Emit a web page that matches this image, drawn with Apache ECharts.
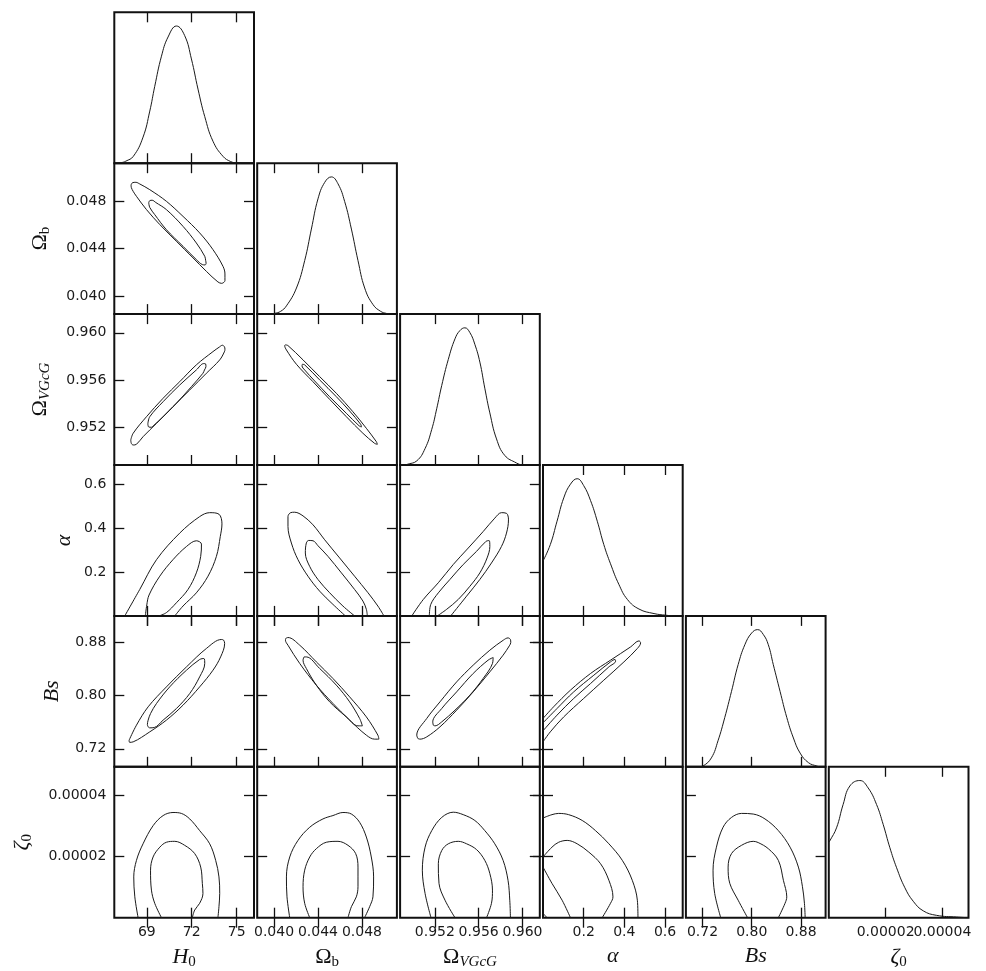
<!DOCTYPE html>
<html>
<head>
<meta charset="utf-8">
<script src="https://cdn.jsdelivr.net/npm/echarts@6/dist/echarts.min.js"></script>
<style>
html, body { margin: 0; background: #fff; }
#graph { width: 986px; height: 971px; }
</style>
</head>
<body>
<div id="graph"></div>
<script>
// parameters: H0, Omega_b, Omega_VGcG, alpha, Bs, zeta0
const axisNames = ['{it|H}{sub|0}', '{rm|Ω}{sub|b}', '{rm|Ω}{subi|VGcG}', '{it|α}', '{it|Bs}', '{it|ζ}{sub|0}'];
const ranges = [[66.83, 76.16], [0.03847, 0.05118], [0.94883, 0.96158], [0, 0.687], [0.693, 0.920], [0, 4.92e-5]];
const ticks = [[69, 72, 75], [0.040, 0.044, 0.048], [0.952, 0.956, 0.960], [0.2, 0.4, 0.6], [0.72, 0.80, 0.88], [2e-5, 4e-5]];
const digits = [0, 3, 3, 1, 2, 5];
const yNameGap = [0, 62, 62, 39, 51, 80];

// 1D marginals: [value, relative density]
const pdfH0 = [[67.0, 0], [67.3, 0.004], [67.6, 0.015], [68.1, 0.05], [68.75, 0.19], [69.2, 0.38], [69.53, 0.56], [69.98, 0.78], [70.42, 0.92], [70.98, 1.0], [71.53, 0.93], [71.98, 0.76], [72.42, 0.54], [72.87, 0.34], [73.42, 0.16], [74.09, 0.05], [74.6, 0.012], [75.0, 0.002], [75.3, 0]];
const pdfOb = [[0.0398, 0], [0.04006, 0.005], [0.0406, 0.02], [0.04113, 0.06], [0.04204, 0.19], [0.04279, 0.39], [0.0434, 0.62], [0.0440, 0.84], [0.04461, 0.96], [0.04522, 1.0], [0.04582, 0.95], [0.04643, 0.82], [0.04704, 0.62], [0.04764, 0.39], [0.04825, 0.19], [0.049, 0.07], [0.0497, 0.02], [0.05022, 0.005], [0.0505, 0]];
const pdfOv = [[0.94935, 0], [0.94945, 0.004], [0.95035, 0.03], [0.95111, 0.12], [0.95172, 0.26], [0.95217, 0.41], [0.95263, 0.58], [0.95323, 0.77], [0.95384, 0.92], [0.95429, 0.98], [0.95474, 1.0], [0.9552, 0.965], [0.95565, 0.88], [0.95611, 0.75], [0.95656, 0.56], [0.95702, 0.38], [0.95763, 0.19], [0.95838, 0.07], [0.95944, 0.015], [0.9599, 0]];
const pdfAlpha = [[0, 0.40], [0.036, 0.52], [0.069, 0.69], [0.102, 0.86], [0.135, 0.96], [0.168, 1.0], [0.2, 0.95], [0.234, 0.84], [0.267, 0.69], [0.299, 0.52], [0.332, 0.38], [0.373, 0.23], [0.415, 0.12], [0.472, 0.05], [0.546, 0.017], [0.604, 0.005], [0.64, 0]];
const pdfBs = [[0.716, 0], [0.7207, 0.005], [0.7344, 0.065], [0.7452, 0.19], [0.7562, 0.36], [0.7671, 0.55], [0.7779, 0.745], [0.7888, 0.89], [0.7998, 0.975], [0.8096, 1.0], [0.8187, 0.965], [0.8269, 0.89], [0.835, 0.745], [0.846, 0.55], [0.8569, 0.36], [0.8677, 0.21], [0.8786, 0.10], [0.8922, 0.03], [0.9059, 0.005], [0.91, 0]];
const pdfZ0 = [[0, 0.55], [0.35e-6, 0.56], [2.72e-6, 0.655], [5.04e-6, 0.825], [7.41e-6, 0.96], [10.93e-6, 1.0], [13.86e-6, 0.946], [16.82e-6, 0.825], [19.15e-6, 0.68], [21.51e-6, 0.51], [23.88e-6, 0.364], [26.8e-6, 0.218], [29.73e-6, 0.12], [33.26e-6, 0.05], [37.99e-6, 0.017], [45.04e-6, 0.005], [49e-6, 0]];

// 2D contours (outer / inner), [x, y]
const obH0Outer = [[67.95, 0.04935], [68.05, 0.04954], [68.27, 0.04957], [68.53, 0.04943], [69.2, 0.04895], [70.31, 0.04797], [71.42, 0.0467], [72.53, 0.04531], [73.42, 0.0439], [74.09, 0.04249], [74.22, 0.04185], [74.22, 0.0413], [74.0, 0.04106], [73.75, 0.04118], [72.98, 0.04207], [72.09, 0.0432], [70.98, 0.0446], [69.87, 0.04601], [68.98, 0.04727], [68.31, 0.04839], [68.09, 0.04881], [67.97, 0.04912], [67.95, 0.04935]];
const obH0Inner = [[69.13, 0.04785], [69.2, 0.04803], [69.36, 0.04806], [69.6, 0.04787], [70.31, 0.04727], [71.42, 0.04586], [72.31, 0.04446], [72.87, 0.04334], [72.93, 0.0430], [72.96, 0.04275], [72.89, 0.04261], [72.71, 0.04264], [72.31, 0.04306], [71.42, 0.04418], [70.31, 0.04558], [69.53, 0.04685], [69.2, 0.04745], [69.13, 0.04785]];
const ovH0Outer = [[67.93, 0.95094], [68.09, 0.95151], [68.98, 0.95291], [70.09, 0.95447], [71.2, 0.95587], [72.31, 0.95729], [73.42, 0.95841], [73.85, 0.9588], [74.05, 0.95895], [74.18, 0.95883], [74.22, 0.95861], [74.18, 0.95839], [73.87, 0.95771], [72.98, 0.95658], [71.87, 0.95517], [70.75, 0.95376], [69.65, 0.95235], [68.75, 0.95122], [68.31, 0.95058], [68.09, 0.95052], [67.97, 0.95065], [67.93, 0.95094]];
const ovH0Inner = [[69.07, 0.9523], [69.2, 0.95291], [70.09, 0.95418], [71.2, 0.95559], [72.31, 0.95686], [72.8, 0.9574], [72.93, 0.95737], [72.95, 0.95714], [72.85, 0.95686], [72.75, 0.95658], [71.98, 0.95545], [70.98, 0.95405], [70.09, 0.95291], [69.42, 0.95212], [69.31, 0.95202], [69.13, 0.95204], [69.07, 0.9523]];
const alH0Outer = [[67.53, 0], [68.53, 0.1204], [69.65, 0.256], [71.2, 0.377], [72.53, 0.452], [73.2, 0.470], [73.82, 0.463], [74.02, 0.419], [73.91, 0.362], [73.65, 0.271], [73.09, 0.181], [72.31, 0.105], [71.42, 0.045], [70.87, 0]];
const alH0Inner = [[68.9, 0], [69.0, 0.05], [69.15, 0.095], [69.87, 0.181], [70.75, 0.256], [71.65, 0.316], [72.31, 0.342], [72.65, 0.327], [72.6, 0.271], [72.31, 0.196], [71.75, 0.120], [70.98, 0.06], [70.31, 0.015], [69.82, 0]];
const bsH0Outer = [[67.82, 0.7331], [68.31, 0.7556], [69.09, 0.7832], [70.31, 0.8132], [71.65, 0.8433], [72.98, 0.871], [73.98, 0.8845], [74.13, 0.8835], [74.2, 0.8785], [73.93, 0.8583], [73.42, 0.8383], [72.53, 0.8132], [71.42, 0.7857], [70.31, 0.7632], [69.2, 0.7456], [68.09, 0.7305], [67.85, 0.7298], [67.82, 0.7331]];
const bsH0Inner = [[69.09, 0.7531], [69.04, 0.7565], [69.09, 0.7631], [69.25, 0.7731], [69.65, 0.7883], [70.53, 0.8132], [71.65, 0.8383], [72.53, 0.8544], [72.82, 0.8559], [72.87, 0.8484], [72.53, 0.8283], [71.87, 0.8033], [70.98, 0.7807], [70.09, 0.7632], [69.5, 0.7521], [69.2, 0.7516], [69.09, 0.7531]];
const zH0Outer = [[68.42, 0], [68.2, 0.68e-5], [68.13, 1.33e-5], [68.31, 1.87e-5], [68.75, 2.41e-5], [69.42, 3.0e-5], [70.09, 3.33e-5], [70.75, 3.43e-5], [71.31, 3.40e-5], [71.87, 3.22e-5], [72.53, 2.84e-5], [73.2, 2.41e-5], [73.6, 1.87e-5], [73.82, 1.33e-5], [73.87, 0.79e-5], [73.82, 0.36e-5], [73.75, 0]];
const zH0Inner = [[69.98, 0], [69.53, 0.47e-5], [69.31, 0.90e-5], [69.25, 1.55e-5], [69.42, 1.98e-5], [69.87, 2.30e-5], [70.31, 2.46e-5], [70.87, 2.49e-5], [71.53, 2.36e-5], [72.2, 2.09e-5], [72.6, 1.65e-5], [72.71, 1.12e-5], [72.75, 0.79e-5], [72.53, 0.47e-5], [72.2, 0.25e-5], [72.04, 0]];
const ovObOuter = [[0.04104, 0.95898], [0.04127, 0.95892], [0.04264, 0.95771], [0.04415, 0.9563], [0.04567, 0.95489], [0.04718, 0.95333], [0.0484, 0.95193], [0.04931, 0.9508], [0.0494, 0.95058], [0.04915, 0.95066], [0.04809, 0.95151], [0.04658, 0.95291], [0.04506, 0.95438], [0.04354, 0.95587], [0.04204, 0.95734], [0.04113, 0.95855], [0.04097, 0.95892], [0.04104, 0.95898]];
const ovObInner = [[0.04258, 0.95734], [0.04279, 0.95729], [0.04415, 0.95602], [0.04567, 0.9546], [0.04688, 0.95339], [0.04788, 0.95227], [0.04795, 0.95204], [0.04773, 0.95215], [0.04658, 0.9532], [0.04506, 0.9546], [0.0437, 0.95593], [0.04279, 0.95686], [0.04255, 0.9572], [0.04258, 0.95734]];
const alObOuter = [[0.04649, 0], [0.04536, 0.0525], [0.04415, 0.1127], [0.04309, 0.1806], [0.04218, 0.256], [0.04158, 0.3317], [0.04127, 0.4068], [0.04127, 0.452], [0.04152, 0.4702], [0.04188, 0.472], [0.04264, 0.4552], [0.04355, 0.4145], [0.04461, 0.3466], [0.04597, 0.2638], [0.04733, 0.1806], [0.04855, 0.1054], [0.04945, 0.0448], [0.0500, 0]];
const alObInner = [[0.04733, 0], [0.04627, 0.0448], [0.04506, 0.1054], [0.044, 0.1657], [0.04324, 0.2258], [0.04285, 0.2864], [0.04294, 0.3317], [0.04315, 0.3435], [0.04355, 0.3421], [0.044, 0.3195], [0.04491, 0.2711], [0.04613, 0.1959], [0.04733, 0.1204], [0.04809, 0.0675], [0.0484, 0.0299], [0.04849, 0]];
const bsObOuter = [[0.04106, 0.886], [0.04127, 0.8875], [0.04234, 0.8759], [0.04385, 0.8508], [0.04536, 0.8259], [0.04688, 0.7982], [0.0484, 0.7681], [0.04945, 0.7406], [0.04954, 0.7346], [0.04915, 0.7346], [0.0484, 0.7406], [0.04688, 0.7632], [0.04536, 0.7883], [0.04385, 0.8158], [0.04234, 0.8484], [0.04127, 0.8759], [0.04104, 0.8835], [0.04106, 0.886]];
const bsObInner = [[0.04273, 0.8583], [0.04294, 0.8583], [0.04415, 0.8409], [0.04567, 0.8158], [0.04688, 0.7907], [0.04779, 0.7657], [0.04804, 0.7546], [0.04764, 0.7546], [0.04658, 0.7681], [0.04506, 0.7907], [0.04385, 0.8158], [0.04294, 0.8409], [0.04264, 0.8534], [0.04273, 0.8583]];
const zObOuter = [[0.04143, 0], [0.04118, 0.68e-5], [0.04113, 1.33e-5], [0.04143, 1.98e-5], [0.04218, 2.52e-5], [0.04325, 2.95e-5], [0.04445, 3.22e-5], [0.04536, 3.33e-5], [0.04627, 3.43e-5], [0.04704, 3.38e-5], [0.04779, 3.11e-5], [0.0484, 2.63e-5], [0.04885, 1.98e-5], [0.04906, 1.33e-5], [0.049, 0.68e-5], [0.0487, 0.36e-5], [0.04824, 0]];
const zObInner = [[0.04325, 0], [0.04279, 0.47e-5], [0.04264, 1.01e-5], [0.04279, 1.55e-5], [0.04325, 1.98e-5], [0.04385, 2.25e-5], [0.04476, 2.46e-5], [0.04582, 2.49e-5], [0.04673, 2.36e-5], [0.04743, 2.09e-5], [0.04764, 1.65e-5], [0.04764, 1.01e-5], [0.04749, 0.68e-5], [0.04704, 0.36e-5], [0.04673, 0]];
const alOvOuter = [[0.9499, 0], [0.95095, 0.075], [0.95232, 0.151], [0.95368, 0.234], [0.95505, 0.309], [0.95641, 0.384], [0.95747, 0.445], [0.95808, 0.470], [0.95854, 0.467], [0.95868, 0.455], [0.95872, 0.437], [0.95854, 0.377], [0.95808, 0.316], [0.95717, 0.241], [0.95611, 0.166], [0.9549, 0.090], [0.95345, 0]];
const alOvInner = [[0.9515, 0], [0.95163, 0.0525], [0.95232, 0.105], [0.95338, 0.166], [0.95459, 0.234], [0.95581, 0.294], [0.95666, 0.339], [0.95696, 0.343], [0.95702, 0.316], [0.95677, 0.264], [0.95611, 0.196], [0.9552, 0.135], [0.95414, 0.075], [0.95308, 0.030], [0.95223, 0]];
const bsOvOuter = [[0.95045, 0.7356], [0.95035, 0.7406], [0.95126, 0.7657], [0.95247, 0.7907], [0.95399, 0.8207], [0.9555, 0.8459], [0.95702, 0.8684], [0.95825, 0.8835], [0.95868, 0.8869], [0.9589, 0.8845], [0.95893, 0.880], [0.9588, 0.875], [0.95823, 0.8609], [0.95702, 0.8358], [0.9555, 0.8057], [0.95399, 0.7782], [0.95247, 0.7531], [0.95126, 0.738], [0.95065, 0.7346], [0.95045, 0.7356]];
const bsOvInner = [[0.95186, 0.7556], [0.95181, 0.7606], [0.95263, 0.7807], [0.95399, 0.8057], [0.9555, 0.8334], [0.95686, 0.8534], [0.95732, 0.8574], [0.95726, 0.8484], [0.95641, 0.8259], [0.9552, 0.8008], [0.95384, 0.7782], [0.95263, 0.7606], [0.95202, 0.7546], [0.95186, 0.7556]];
const zOvOuter = [[0.95165, 0], [0.95111, 0.79e-5], [0.95086, 1.55e-5], [0.95111, 2.30e-5], [0.95172, 2.84e-5], [0.95263, 3.27e-5], [0.95368, 3.44e-5], [0.95459, 3.36e-5], [0.95565, 3.17e-5], [0.95656, 2.84e-5], [0.95747, 2.41e-5], [0.95823, 1.87e-5], [0.95868, 1.22e-5], [0.95884, 0.57e-5], [0.9589, 0]];
const zOvInner = [[0.95384, 0], [0.95293, 0.57e-5], [0.95238, 1.12e-5], [0.95232, 1.76e-5], [0.95263, 2.19e-5], [0.95323, 2.41e-5], [0.95414, 2.49e-5], [0.9549, 2.41e-5], [0.95581, 2.22e-5], [0.95656, 1.87e-5], [0.95702, 1.44e-5], [0.95726, 0.90e-5], [0.95717, 0.47e-5], [0.95672, 0]];
const bsAlOuter = [[0, 0.7657], [0.052, 0.7832], [0.135, 0.8083], [0.234, 0.8334], [0.332, 0.8534], [0.431, 0.8734], [0.472, 0.8824], [0.480, 0.8794], [0.464, 0.871], [0.398, 0.8508], [0.299, 0.8233], [0.200, 0.7958], [0.102, 0.7681], [0.036, 0.7456], [0, 0.7305]];
const bsAlInner = [[0, 0.7591], [0.069, 0.7807], [0.151, 0.8057], [0.25, 0.8308], [0.332, 0.8508], [0.354, 0.8544], [0.357, 0.8519], [0.324, 0.8433], [0.234, 0.8183], [0.151, 0.7958], [0.069, 0.7707], [0, 0.7471]];
const zAlOuter = [[0, 3.25e-5], [0.044, 3.36e-5], [0.077, 3.40e-5], [0.126, 3.36e-5], [0.193, 3.17e-5], [0.258, 2.84e-5], [0.324, 2.41e-5], [0.390, 1.87e-5], [0.439, 1.22e-5], [0.464, 0.57e-5], [0.467, 0]];
const zAlOuterCorner = [[0, 0.14e-5], [0.02, 0]];
const zAlInnerA = [[0, 1.98e-5], [0.044, 2.30e-5], [0.077, 2.46e-5], [0.119, 2.52e-5], [0.168, 2.41e-5], [0.225, 2.14e-5], [0.283, 1.76e-5], [0.324, 1.22e-5], [0.344, 0.68e-5], [0.332, 0.47e-5], [0.291, 0]];
const zAlInnerB = [[0, 1.65e-5], [0.044, 1.12e-5], [0.094, 0.57e-5], [0.135, 0]];
const zBsOuter = [[0.7496, 0], [0.7398, 0.79e-5], [0.7371, 1.55e-5], [0.7426, 2.30e-5], [0.7534, 2.95e-5], [0.7671, 3.27e-5], [0.7834, 3.40e-5], [0.8024, 3.38e-5], [0.8215, 3.22e-5], [0.8432, 2.84e-5], [0.8623, 2.30e-5], [0.8758, 1.65e-5], [0.8824, 1.01e-5], [0.8856, 0.47e-5], [0.8868, 0]];
const zBsInner = [[0.7932, 0], [0.7779, 0.57e-5], [0.7643, 1.12e-5], [0.7616, 1.65e-5], [0.7671, 2.09e-5], [0.7834, 2.36e-5], [0.8024, 2.49e-5], [0.8105, 2.45e-5], [0.8269, 2.25e-5], [0.8432, 1.87e-5], [0.8514, 1.22e-5], [0.8569, 0.68e-5], [0.8541, 0.47e-5], [0.8432, 0]];

// [row, col, curves]
const panels = [
  [0, 0, [pdfH0]],
  [1, 0, [obH0Outer, obH0Inner]], [1, 1, [pdfOb]],
  [2, 0, [ovH0Outer, ovH0Inner]], [2, 1, [ovObOuter, ovObInner]], [2, 2, [pdfOv]],
  [3, 0, [alH0Outer, alH0Inner]], [3, 1, [alObOuter, alObInner]], [3, 2, [alOvOuter, alOvInner]], [3, 3, [pdfAlpha]],
  [4, 0, [bsH0Outer, bsH0Inner]], [4, 1, [bsObOuter, bsObInner]], [4, 2, [bsOvOuter, bsOvInner]], [4, 3, [bsAlOuter, bsAlInner]], [4, 4, [pdfBs]],
  [5, 0, [zH0Outer, zH0Inner]], [5, 1, [zObOuter, zObInner]], [5, 2, [zOvOuter, zOvInner]], [5, 3, [zAlOuter, zAlOuterCorner, zAlInnerA, zAlInnerB]], [5, 4, [zBsOuter, zBsInner]], [5, 5, [pdfZ0]]
];

const ink = '#111';
const rich = {
  it: { fontFamily: 'Liberation Serif', fontStyle: 'italic', fontSize: 22, color: ink },
  rm: { fontFamily: 'Liberation Serif', fontSize: 22, color: ink },
  sub: { fontFamily: 'Liberation Serif', fontSize: 15, color: ink, padding: [9, 0, 0, 0] },
  subi: { fontFamily: 'Liberation Serif', fontStyle: 'italic', fontSize: 15, color: ink, padding: [9, 0, 0, 0] }
};

function axisCommon(p, g, pos, labels, labelValues) {
  return {
    type: 'value', gridIndex: g, position: pos,
    min: ranges[p][0], max: ranges[p][1],
    axisLine: { show: false },
    axisTick: { show: true, inside: true, length: 10, customValues: ticks[p], lineStyle: { color: ink, width: 1.3 } },
    axisLabel: {
      show: labels, customValues: labelValues || ticks[p], hideOverlap: false,
      showMinLabel: true, showMaxLabel: true,
      formatter: v => v.toFixed(digits[p]),
      margin: 8, fontSize: 14, color: '#1a1a1a', fontFamily: 'DejaVu Sans'
    },
    splitLine: { show: false },
    name: labels ? axisNames[p] : '',
    nameLocation: 'middle', nameMoveOverlap: false,
    nameTextStyle: { rich: rich }
  };
}

const option = { backgroundColor: '#fff', animation: false, grid: [], xAxis: [], yAxis: [], series: [] };

panels.forEach(([r, c, curves]) => {
  const g = option.grid.length;
  option.grid.push({
    left: 114.3 + c * 142.9, top: 12.3 + r * 150.9, width: 139.7, height: 150.9,
    show: true, borderColor: ink, borderWidth: 2, backgroundColor: 'transparent',
    outerBoundsMode: 'none'
  });
  const xi = option.xAxis.length;
  // the zeta0 labels touch each other, so each sits on its own axis to keep both visible
  const split = r === 5 && c === 5;
  option.xAxis.push(Object.assign(axisCommon(c, g, 'bottom', r === 5, split ? [ticks[c][0]] : null), { nameGap: 28 }));
  option.xAxis.push(axisCommon(c, g, 'top', false));
  if (split) {
    const extra = axisCommon(c, g, 'bottom', true, [ticks[c][1]]);
    extra.axisTick.show = false;
    extra.name = '';
    option.xAxis.push(extra);
  }
  const yi = option.yAxis.length;
  if (r === c) {
    option.yAxis.push({ type: 'value', gridIndex: g, min: 0, max: 1.1, show: false });
  } else {
    option.yAxis.push(Object.assign(axisCommon(r, g, 'left', c === 0), { nameGap: yNameGap[r], nameRotate: 90 }));
    option.yAxis.push(axisCommon(r, g, 'right', false));
  }
  curves.forEach(d => {
    option.series.push({
      type: 'line', xAxisIndex: xi, yAxisIndex: yi, data: d,
      showSymbol: false, smooth: r === c ? 0.45 : 0.35, silent: true,
      lineStyle: { color: '#1a1a1a', width: 1 }
    });
  });
});

const chart = echarts.init(document.getElementById('graph'));
chart.setOption(option);
</script>
</body>
</html>
